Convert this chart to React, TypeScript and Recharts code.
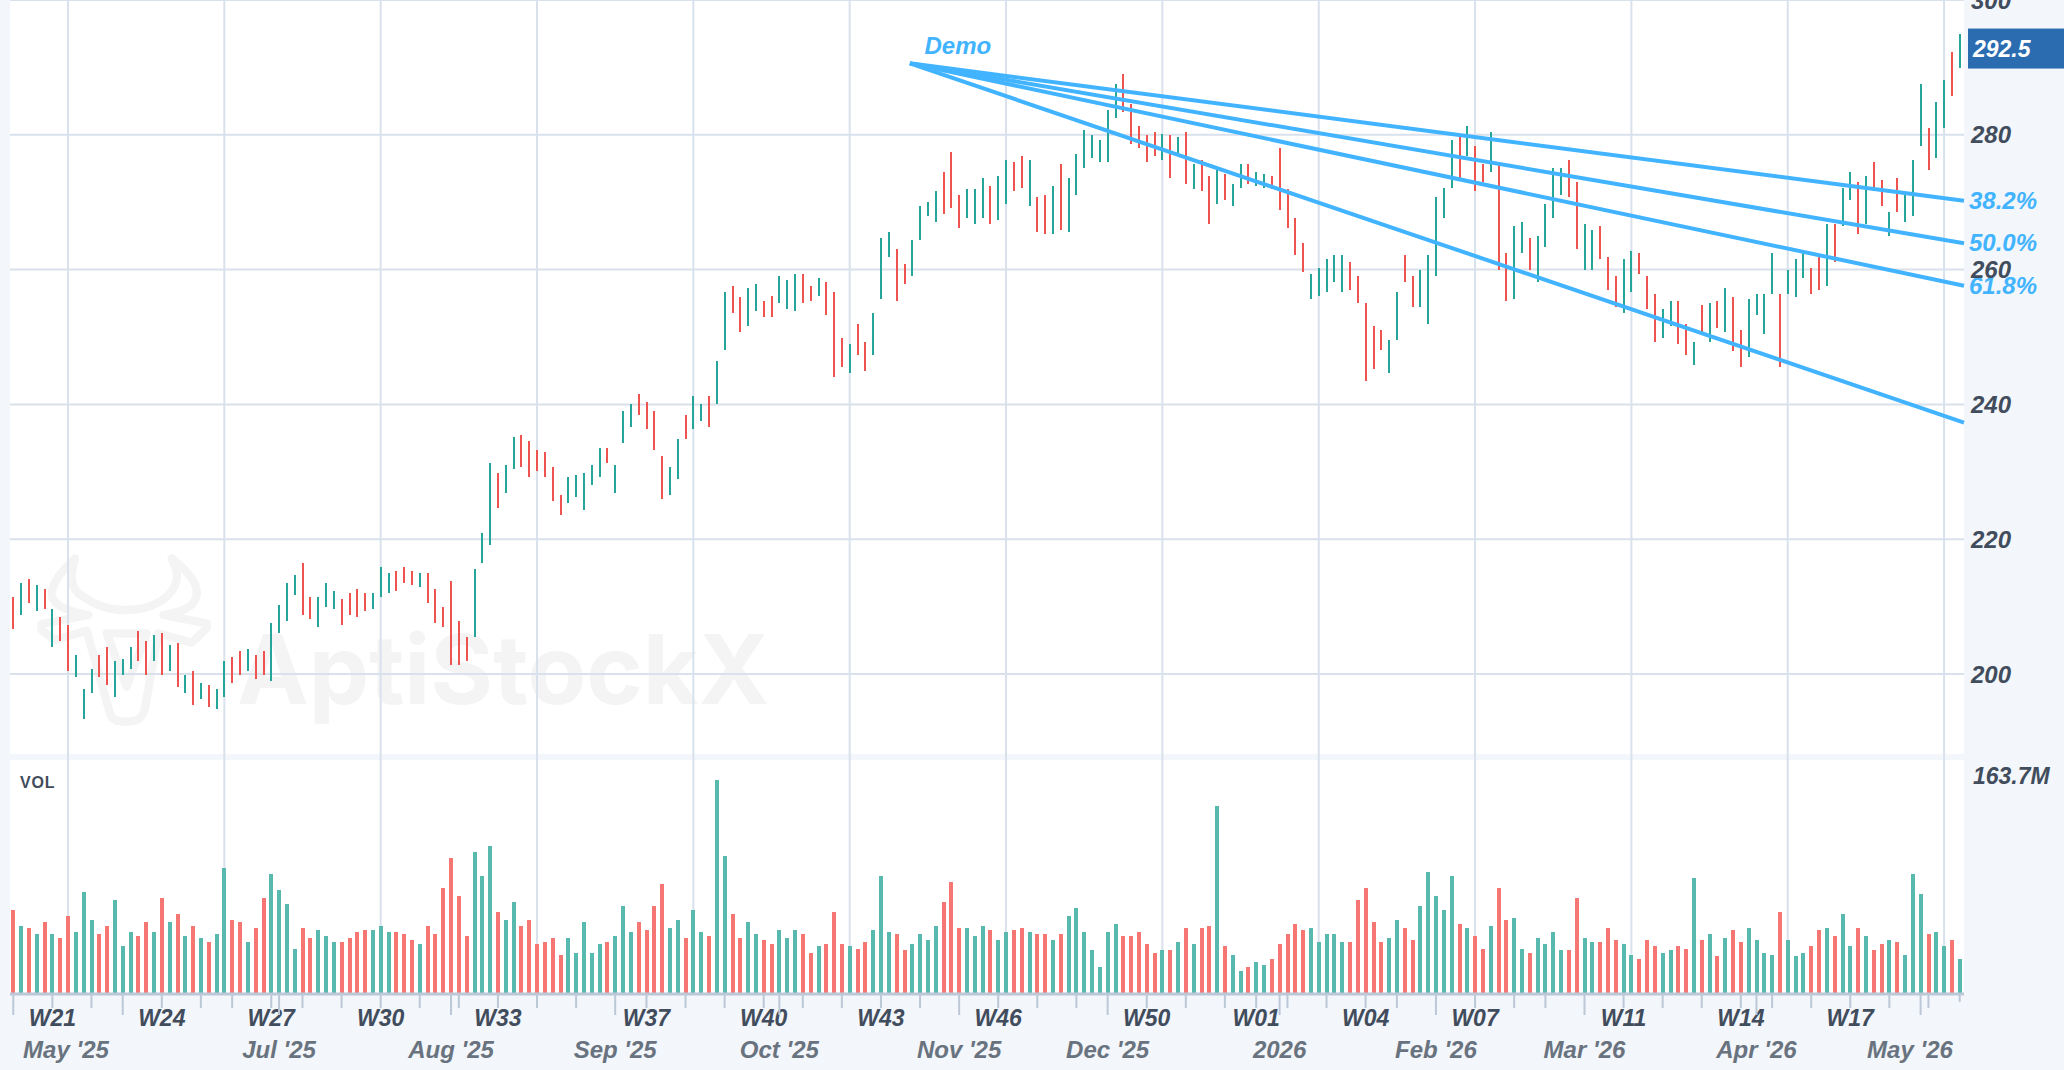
import { Bar, CartesianGrid, Cell, ComposedChart, ReferenceDot, ReferenceLine, XAxis, YAxis } from "recharts";

// one letter per trading day: g = closed up, r = closed down
const sides = [
  "rgrgrgrrgg", "grrgggrrgr", "grgrgrggrr", "grrggggrrg", "ggrrrrgggr",
  "rrgrrrrrrg", "ggrggrrrrr", "rgggggrggg", "rrrrggrggr", "ggrrggrrgg",
  "grrgrrrgrr", "gggrrggggr", "rrgggrggrr", "grrgrggggg", "ggrrrrrgrg",
  "rgrrgrggrg", "grrrrrgggg", "grrrrrggrr", "gggggrgrrg", "rrggrggggr",
  "rggrrrggrr", "rggrrgrgrg", "rrggggrggg", "rrgrggrgrr", "grgggrggrg",
].join("");

const highs = [
  211.4, 213.5, 214.1, 213.2, 212.6, 209.6, 208.4, 207.3, 202.8, 197.8,
  200.7, 202.8, 204.0, 201.9, 202.2, 204.0, 206.4, 204.9, 205.8, 206.1,
  204.3, 204.6, 199.9, 200.4, 198.7, 198.4, 197.8, 201.9, 202.5, 203.4,
  203.7, 202.8, 203.4, 207.6, 210.2, 213.5, 214.7, 216.4, 211.4, 211.4,
  213.5, 212.3, 211.1, 212.0, 212.6, 212.0, 212.0, 215.9, 215.0, 215.3,
  215.9, 215.3, 215.0, 215.0, 212.6, 209.9, 213.8, 207.9, 205.5, 215.6,
  220.9, 231.3, 229.8, 231.0, 235.1, 235.4, 234.5, 233.3, 233.0, 230.7,
  226.5, 229.2, 229.5, 229.8, 231.0, 233.6, 233.6, 231.0, 239.0, 240.1,
  241.6, 240.4, 239.0, 232.4, 230.7, 234.8, 238.4, 241.3, 240.1, 241.3,
  246.4, 256.7, 257.6, 255.9, 257.3, 257.9, 255.3, 256.1, 259.1, 258.5,
  259.4, 259.4, 257.6, 258.8, 258.2, 256.7, 249.9, 249.0, 252.0, 249.3,
  253.5, 264.7, 265.6, 263.0, 260.9, 264.4, 269.5, 270.1, 271.6, 274.5,
  277.5, 271.0, 271.9, 271.9, 273.6, 272.4, 273.9, 276.3, 276.0, 276.9,
  276.3, 270.7, 271.0, 272.4, 275.7, 273.6, 277.2, 280.7, 279.9, 279.3,
  283.7, 287.6, 289.0, 284.6, 281.3, 279.9, 280.4, 280.1, 279.9, 279.6,
  280.4, 275.7, 276.3, 273.9, 275.1, 274.2, 272.7, 275.7, 275.7, 274.5,
  274.2, 273.9, 278.1, 271.9, 267.7, 263.9, 259.4, 260.3, 261.5, 262.1,
  262.1, 261.2, 259.1, 255.0, 251.7, 251.1, 249.6, 256.7, 262.1, 259.1,
  260.0, 262.1, 270.7, 272.1, 279.3, 279.9, 281.3, 278.4, 275.7, 280.4,
  276.0, 262.4, 266.5, 267.1, 264.7, 265.0, 269.8, 275.1, 275.1, 276.3,
  273.0, 266.8, 265.9, 266.5, 261.8, 259.1, 261.5, 262.7, 262.4, 259.1,
  256.4, 254.1, 255.3, 255.3, 252.0, 249.3, 254.7, 255.0, 255.3, 257.3,
  255.9, 251.1, 255.6, 256.4, 256.4, 262.4, 256.4, 260.0, 261.5, 262.4,
  260.3, 261.8, 266.8, 266.8, 272.1, 274.5, 273.0, 273.9, 276.0, 273.3,
  268.6, 273.6, 271.0, 276.3, 287.6, 281.0, 284.9, 288.1, 292.3, 295.0,
];

const lows = [
  206.7, 208.7, 210.5, 209.3, 209.6, 204.0, 204.9, 200.4, 199.6, 193.3,
  197.2, 199.6, 198.4, 196.6, 199.9, 200.7, 201.9, 199.9, 201.9, 199.9,
  200.4, 198.1, 197.2, 195.4, 196.3, 195.1, 194.8, 196.6, 198.7, 199.9,
  200.4, 199.3, 199.9, 199.0, 206.1, 207.9, 211.7, 208.7, 208.1, 207.0,
  209.9, 209.6, 207.3, 208.7, 208.4, 209.3, 209.6, 211.4, 212.0, 212.3,
  213.5, 213.2, 212.9, 210.5, 207.6, 207.0, 201.3, 201.3, 201.9, 205.5,
  216.4, 219.1, 224.7, 226.8, 230.4, 230.7, 229.2, 230.1, 229.2, 225.6,
  223.6, 225.3, 226.2, 224.4, 228.0, 229.2, 231.3, 226.8, 234.2, 236.6,
  238.4, 236.3, 233.3, 225.9, 226.5, 228.9, 234.8, 236.3, 237.5, 236.6,
  240.1, 248.1, 253.5, 250.8, 251.7, 253.8, 252.9, 252.9, 255.0, 254.1,
  253.8, 255.0, 255.3, 256.1, 253.2, 244.0, 245.5, 244.6, 247.3, 244.9,
  247.3, 255.6, 261.8, 255.3, 257.9, 259.1, 264.4, 268.0, 267.1, 268.3,
  269.2, 266.2, 267.7, 266.8, 267.7, 266.8, 267.4, 269.8, 271.6, 272.1,
  269.5, 265.6, 265.3, 265.3, 265.9, 265.6, 271.0, 275.1, 276.6, 276.0,
  276.0, 282.5, 283.4, 278.7, 278.1, 276.0, 276.9, 276.3, 273.6, 276.9,
  272.7, 271.9, 271.6, 266.8, 269.8, 270.4, 269.5, 272.1, 272.7, 272.4,
  272.1, 271.9, 268.9, 266.2, 262.1, 259.7, 255.6, 256.1, 256.7, 258.2,
  256.7, 257.0, 255.0, 243.4, 245.2, 248.1, 244.6, 249.6, 258.2, 254.4,
  254.4, 252.0, 259.1, 267.7, 272.1, 273.6, 276.9, 271.6, 273.0, 274.5,
  260.0, 255.3, 255.6, 262.4, 260.0, 258.2, 263.3, 267.7, 271.0, 270.7,
  263.0, 260.0, 260.0, 261.5, 257.0, 254.4, 253.5, 256.7, 259.4, 254.1,
  249.3, 249.9, 251.7, 249.0, 247.3, 245.8, 250.5, 249.3, 251.4, 250.8,
  247.9, 245.5, 247.0, 253.2, 250.5, 256.4, 245.5, 256.4, 255.9, 258.8,
  256.4, 257.0, 257.6, 261.2, 266.5, 270.4, 265.3, 266.8, 271.7, 269.5,
  265.0, 268.6, 267.1, 268.0, 278.4, 274.8, 276.6, 281.0, 285.8, 289.9,
];

// millions of shares
const volumes = [
  64.0, 51.7, 50.2, 45.6, 54.8, 45.6, 42.5, 59.4, 47.1, 77.8,
  56.3, 45.6, 51.7, 71.7, 36.4, 47.1, 44.0, 54.8, 47.1, 73.2,
  54.8, 60.9, 44.0, 51.7, 42.5, 39.4, 45.6, 96.3, 56.3, 54.8,
  39.4, 50.2, 73.2, 91.6, 79.4, 68.6, 34.8, 50.2, 42.5, 48.6,
  44.0, 39.4, 39.4, 42.5, 47.1, 48.6, 48.6, 51.7, 47.1, 47.1,
  45.6, 41.0, 37.9, 51.7, 45.6, 80.9, 103.9, 74.8, 44.0, 108.5,
  90.1, 113.2, 62.5, 56.3, 70.1, 51.7, 56.3, 37.9, 39.4, 42.5,
  30.2, 42.5, 31.7, 54.8, 31.7, 37.9, 39.4, 44.0, 67.1, 47.1,
  54.8, 48.6, 67.1, 84.0, 50.2, 56.3, 42.5, 64.0, 47.1, 44.0,
  163.7, 105.5, 60.9, 42.5, 54.8, 45.6, 41.0, 37.9, 48.6, 42.5,
  48.6, 45.6, 31.7, 36.4, 37.9, 62.5, 37.9, 36.4, 34.8, 39.4,
  48.6, 90.1, 47.1, 45.6, 33.3, 37.9, 45.6, 41.0, 51.7, 70.1,
  85.5, 50.2, 50.2, 44.0, 51.7, 48.6, 41.0, 47.1, 48.6, 50.2,
  47.1, 45.6, 45.6, 41.0, 45.6, 59.4, 65.5, 47.1, 33.3, 21.0,
  47.1, 53.2, 44.0, 44.0, 47.1, 37.9, 31.7, 33.3, 33.3, 39.4,
  50.2, 37.9, 50.2, 51.7, 143.9, 36.4, 30.2, 17.9, 21.0, 24.1,
  22.5, 27.1, 37.9, 45.6, 53.2, 48.6, 50.2, 39.4, 45.6, 45.6,
  39.4, 39.4, 71.7, 80.9, 54.8, 39.4, 42.5, 56.3, 50.2, 41.0,
  67.1, 93.2, 74.8, 64.0, 90.1, 53.2, 50.2, 44.0, 34.8, 51.7,
  80.9, 56.3, 57.9, 34.8, 31.7, 42.5, 37.9, 47.1, 33.3, 33.3,
  73.2, 42.5, 39.4, 39.4, 50.2, 41.0, 37.9, 30.2, 27.1, 41.0,
  36.4, 31.7, 33.3, 36.4, 34.8, 88.6, 41.0, 45.6, 28.7, 42.5,
  48.6, 39.4, 50.2, 41.0, 31.7, 30.2, 62.5, 41.0, 28.7, 31.7,
  36.4, 48.6, 50.2, 44.0, 60.9, 36.4, 50.2, 44.0, 33.3, 37.9,
  41.0, 39.4, 30.2, 91.6, 76.3, 45.6, 47.1, 36.4, 41.0, 27.1,
];

const priceTicks = [200, 220, 240, 260, 280, 300];
const lastPrice = 292.5;
const gridDays = [7, 27, 47, 67, 87, 107, 127, 147, 167, 187, 207, 227, 247];
const weekDays = [0, 5, 10, 14, 19, 24, 28, 33, 37, 42, 47, 52, 57, 62, 67, 72, 77, 81, 86, 91, 96, 101, 106, 111, 116, 121, 126, 131, 136, 140, 145, 150, 155, 159, 163, 168, 173, 177, 182, 187, 192, 196, 201, 206, 211, 216, 221, 225, 230, 235, 240, 245];
const weekLabelDays = [5, 19, 33, 47, 62, 81, 96, 111, 126, 145, 159, 173, 187, 206, 221, 235];
const weekLabels = ["W21", "W24", "W27", "W30", "W33", "W37", "W40", "W43", "W46", "W50", "W01", "W04", "W07", "W11", "W14", "W17"];
const monthDays = [0, 14, 34, 56, 77, 98, 121, 140, 162, 182, 201, 223, 244];
const monthLabels = ["May '25", "", "Jul '25", "Aug '25", "Sep '25", "Oct '25", "Nov '25", "Dec '25", "2026", "Feb '26", "Mar '26", "Apr '26", "May '26"];
const lastDay = 249;

// fan drawn from the swing high, one price per ray at the right edge
const fanStart = { day: 114.7, price: 290.6 };
const fanEndDay = 249.55;
const fanEnds = [270.2, 263.9, 257.6, 237.3];
const fanLevels = [
  { label: "38.2%", price: 270.2 },
  { label: "50.0%", price: 263.9 },
  { label: "61.8%", price: 257.6 },
];

const GREEN = "#26a69a";
const RED = "#ef5350";
const FAN = "#42b4ff";
const GRID = "#d9e1ec";
const PANEL = "#f3f6fa";
const INK = "#414c5c";
const FONT = '"Liberation Sans", Arial, sans-serif';

const table = highs.map((h, i) => ({ day: i, range: [lows[i], h], volume: volumes[i] }));
const xDomain = [-0.42, 249.55];
const allTicks = [...new Set([...weekDays, ...monthDays, lastDay])].sort((a, b) => a - b);

function TimeTick({ x, y, payload }: any) {
  const day = payload.value;
  const m = monthDays.indexOf(day);
  const w = weekLabelDays.indexOf(day);
  const len = day === lastDay ? 8 : m >= 0 ? 21 : 14;
  // the outer month names get pushed inwards so they stay on the page
  const monthX = Math.min(Math.max(x, 66), 1910);
  return (
    <g fontFamily={FONT} fontWeight="bold" fontStyle="italic" textAnchor="middle">
      <line x1={x} x2={x} y1={y} y2={y + len} stroke="#bcc8d8" strokeWidth={2} />
      {w >= 0 && <text x={x} y={y + 32} fontSize={23} fill={INK}>{weekLabels[w]}</text>}
      {m >= 0 && monthLabels[m] && <text x={monthX} y={y + 64} fontSize={24} fill="#69737f">{monthLabels[m]}</text>}
    </g>
  );
}

function Watermark() {
  return (
    <svg width={2064} height={1070} style={{ position: "absolute", left: 0, top: 0 }}>
      <g transform="translate(0,500) scale(0.3333)" fill="none" stroke="#f4f4f5" strokeWidth={25} strokeLinejoin="round">
        <path d="M225 175 C190 210 155 245 155 285 C160 320 210 335 265 345 L125 372 L125 390 L165 420 L260 392 L330 640 C335 660 350 665 380 665 C410 665 425 660 435 625 L475 400 L575 428 L620 385 L620 370 L490 345 C550 335 585 320 590 285 C595 250 560 210 515 175 C525 195 535 215 530 240 C520 290 460 330 380 330 C310 330 270 305 235 280 C205 250 215 215 225 175 Z" />
        <path d="M320 400 L440 400 L380 560 Z" />
      </g>
      <text x={237} y={704} fontFamily="Inter" fontWeight={700} fontSize={96} fill="#f4f4f5">AptiStockX</text>
    </svg>
  );
}

export default function App() {
  return (
    <div style={{ position: "fixed", left: 0, top: 0, width: 2064, height: 1070, background: PANEL, overflow: "hidden" }}>
      <div style={{ position: "absolute", left: 10, top: 0, width: 1954, height: 754, background: "#fff" }} />
      <div style={{ position: "absolute", left: 10, top: 760, width: 1954, height: 234, background: "#fff" }} />
      <Watermark />

      <div style={{ position: "absolute", left: 0, top: 0 }}>
        <ComposedChart width={2064} height={760} data={table} margin={{ top: 0, right: 0, bottom: 0, left: 10 }}>
          <CartesianGrid stroke={GRID} strokeWidth={2} horizontalValues={priceTicks} verticalValues={gridDays} />
          <XAxis dataKey="day" type="number" domain={xDomain} hide allowDataOverflow />
          <YAxis
            orientation="right"
            width={100}
            domain={[187.24, 300]}
            ticks={priceTicks}
            interval={0}
            axisLine={false}
            tickLine={false}
            tickSize={0}
            tickMargin={7}
            tick={{ fill: INK, fontFamily: FONT, fontWeight: "bold", fontStyle: "italic", fontSize: 24 }}
            allowDataOverflow
          />
          <Bar dataKey="range" barSize={2} shapeRendering="crispEdges" isAnimationActive={false}>
            {table.map((d) => (
              <Cell key={d.day} fill={sides[d.day] === "g" ? GREEN : RED} />
            ))}
          </Bar>
          {fanEnds.map((end) => (
            <ReferenceLine
              key={end}
              segment={[{ x: fanStart.day, y: fanStart.price }, { x: fanEndDay, y: end }]}
              stroke={FAN}
              strokeWidth={4}
              ifOverflow="visible"
            />
          ))}
          <ReferenceDot
            x={119}
            y={fanStart.price + 2.4}
            ifOverflow="visible"
            shape={(p: any) => (
              <text x={p.cx - 19} y={p.cy + 7} fill={FAN} fontFamily={FONT} fontWeight="bold" fontStyle="italic" fontSize={24}>Demo</text>
            )}
          />
          {fanLevels.map((lvl) => (
            <ReferenceDot
              key={lvl.label}
              x={fanEndDay}
              y={lvl.price}
              ifOverflow="visible"
              shape={(p: any) => (
                <text x={p.cx + 5} y={p.cy + 8} fill={FAN} fontFamily={FONT} fontWeight="bold" fontStyle="italic" fontSize={24}>{lvl.label}</text>
              )}
            />
          ))}
          <ReferenceDot
            x={fanEndDay}
            y={lastPrice}
            ifOverflow="visible"
            shape={(p: any) => (
              <g>
                <rect x={p.cx + 4} y={p.cy - 22} width={96} height={40} fill="#2b6cb0" />
                <text x={p.cx + 9} y={p.cy + 6} fill="#fff" fontFamily={FONT} fontWeight="bold" fontStyle="italic" fontSize={23}>{lastPrice}</text>
              </g>
            )}
          />
        </ComposedChart>
      </div>

      <div style={{ position: "absolute", left: 0, top: 760 }}>
        <ComposedChart width={2064} height={310} data={table} margin={{ top: 0, right: 0, bottom: 0, left: 10 }}>
          <CartesianGrid stroke={GRID} strokeWidth={2} horizontal={false} verticalValues={gridDays} />
          <XAxis
            dataKey="day"
            type="number"
            domain={xDomain}
            height={76}
            ticks={allTicks}
            interval={0}
            tickSize={0}
            tickMargin={0}
            tickLine={false}
            axisLine={{ stroke: "#bcc8d8", strokeWidth: 3 }}
            tick={TimeTick}
            allowDataOverflow
          />
          <YAxis
            orientation="right"
            width={100}
            domain={[0, 179]}
            ticks={[163.7]}
            tickFormatter={(v: number) => `${v}M`}
            axisLine={false}
            tickLine={false}
            tickSize={0}
            tickMargin={9}
            dy={-4}
            tick={{ fill: INK, fontFamily: FONT, fontWeight: "bold", fontStyle: "italic", fontSize: 23 }}
          />
          <Bar dataKey="volume" barSize={4} shapeRendering="crispEdges" isAnimationActive={false}>
            {table.map((d) => (
              <Cell key={d.day} fill={sides[d.day] === "g" ? "#58b9ae" : "#f57673"} />
            ))}
          </Bar>
          <text x={20} y={28} fill={INK} fontFamily={FONT} fontWeight="bold" fontSize={16} letterSpacing={0.8}>VOL</text>
        </ComposedChart>
      </div>
    </div>
  );
}
